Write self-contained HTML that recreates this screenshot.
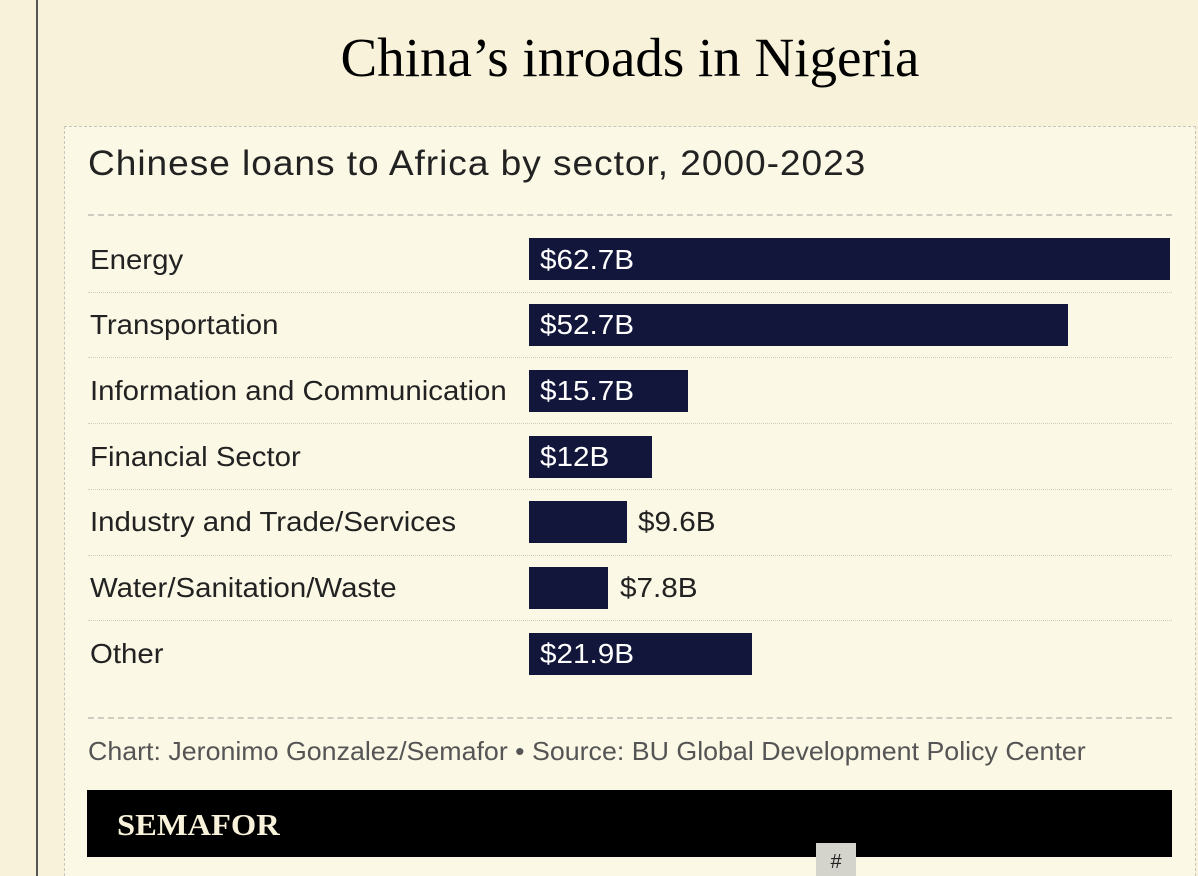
<!DOCTYPE html><html><head><style>
html,body{margin:0;width:1198px;height:876px;overflow:hidden}
body{background:#f7f2d9;position:relative;font-family:"Liberation Sans",sans-serif}
.vl{position:absolute;left:36px;top:0;width:2px;height:876px;background:#555}
h1{position:absolute;top:26px;left:0;width:1260px;text-align:center;margin:0;font:400 55px "Liberation Serif",serif;color:#000}
.box{position:absolute;left:64px;top:126px;width:1132px;height:750px;border-left:1.5px dashed #c8c6bc;border-top:1.5px dashed #c8c6bc;border-right:1.5px dashed #c8c6bc;background:#fbf8e5;box-sizing:border-box}
.sub{position:absolute;left:88px;top:144px;font-size:35px;color:#222;letter-spacing:0.9px;transform:scaleX(1.06);transform-origin:left;white-space:nowrap}
.dl{position:absolute;left:88px;width:1084px;border-top:2px dashed #cfcdc2}
.dt{position:absolute;left:88px;width:1084px;border-top:1.5px dotted #d0cec4}
.lab{position:absolute;left:90px;font-size:28px;color:#222;transform:scaleX(1.05);transform-origin:left;white-space:nowrap}
.bar{position:absolute;left:529px;height:42px;background:#11163a}
.v{position:absolute;font-size:28px;color:#fff;transform:scaleX(1.06);transform-origin:left}
.v.o{color:#222}
.src{position:absolute;left:88px;top:736px;font-size:26px;color:#555;transform:scaleX(1.03);transform-origin:left;white-space:nowrap}
.sb{position:absolute;left:87px;top:790px;width:1085px;height:67px;background:#000}
.sb span{position:absolute;left:30px;top:17px;font:700 31px "Liberation Serif",serif;color:#f7f2d9;transform:scaleX(1.05);transform-origin:left}
.tab{position:absolute;left:816px;top:843px;width:40px;height:33px;background:#d4d3cc;text-align:center;font-size:20px;line-height:38px;color:#222;overflow:hidden}
</style></head><body>
<div class="vl"></div>
<h1>China’s inroads in Nigeria</h1>
<div class="box"></div>
<div class="sub">Chinese loans to Africa by sector, 2000-2023</div>
<div class="dl" style="top:214px"></div>
<div class="lab" style="top:244px">Energy</div><div class="bar" style="top:238px;width:641px"></div><div class="v" style="left:540px;top:244px">$62.7B</div>
<div class="dt" style="top:292px"></div>
<div class="lab" style="top:309px">Transportation</div><div class="bar" style="top:304px;width:539px"></div><div class="v" style="left:540px;top:309px">$52.7B</div>
<div class="dt" style="top:357px"></div>
<div class="lab" style="top:375px">Information and Communication</div><div class="bar" style="top:370px;width:159px"></div><div class="v" style="left:540px;top:375px">$15.7B</div>
<div class="dt" style="top:423px"></div>
<div class="lab" style="top:441px">Financial Sector</div><div class="bar" style="top:436px;width:123px"></div><div class="v" style="left:540px;top:441px">$12B</div>
<div class="dt" style="top:489px"></div>
<div class="lab" style="top:506px">Industry and Trade/Services</div><div class="bar" style="top:501px;width:98px"></div><div class="v o" style="left:638px;top:506px">$9.6B</div>
<div class="dt" style="top:555px"></div>
<div class="lab" style="top:572px">Water/Sanitation/Waste</div><div class="bar" style="top:567px;width:79px"></div><div class="v o" style="left:620px;top:572px">$7.8B</div>
<div class="dt" style="top:620px"></div>
<div class="lab" style="top:638px">Other</div><div class="bar" style="top:633px;width:223px"></div><div class="v" style="left:540px;top:638px">$21.9B</div>
<div class="dl" style="top:717px"></div>
<div class="src">Chart: Jeronimo Gonzalez/Semafor • Source: BU Global Development Policy Center</div>
<div class="sb"><span>SEMAFOR</span></div>
<div class="tab">#</div>
</body></html>
